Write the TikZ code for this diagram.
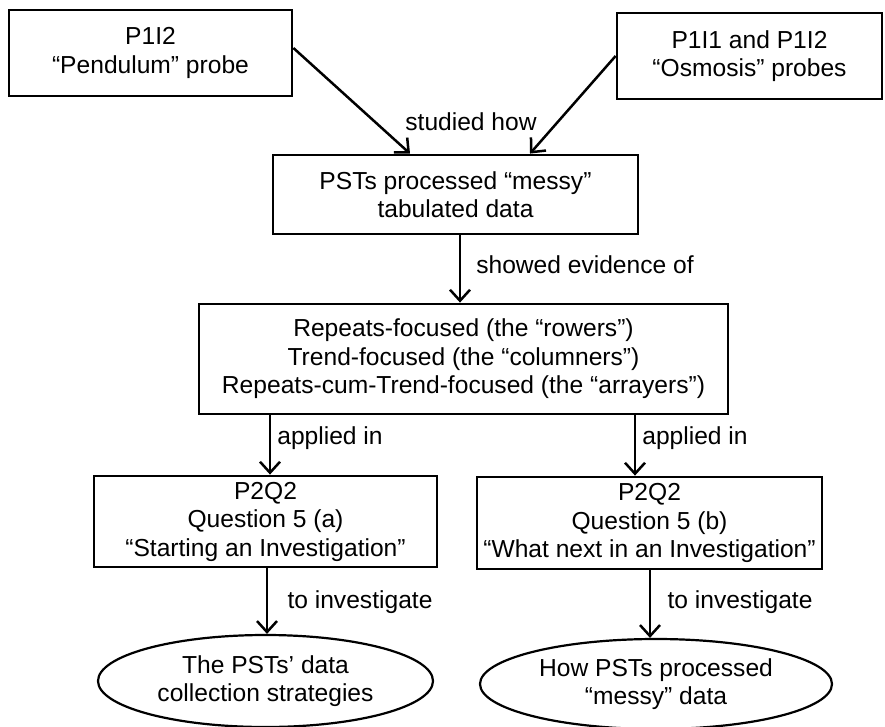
\documentclass[tikz,border=0pt]{standalone}
\usepackage{fontspec}
\setmainfont{Liberation Sans}
\usetikzlibrary{arrows.meta,shapes.geometric,calc}
\begin{document}
\begin{tikzpicture}[x=1pt,y=-1pt,
  txt/.style={font=\fontsize{24.6}{28.5}\selectfont},
  box/.style={txt,draw,line width=2.8pt,rectangle,inner sep=0pt,align=center},
  oval/.style={txt,draw,line width=2.2pt,ellipse,inner sep=0pt,align=center},
  arr/.style={line width=2.5pt,-{Straight Barb[length=11pt,width=20pt,line width=2.5pt]}},
  lab/.style={txt,inner sep=0pt}]
\useasboundingbox (0,0) rectangle (885,727);

\node[box,minimum width=283pt,minimum height=86pt] (b1) at (150.5,53) {P1I2\\“Pendulum” probe};
\node[box,minimum width=265pt,minimum height=86pt] (b2) at (749.5,56) {P1I1 and P1I2\\“Osmosis” probes};
\node[box,minimum width=365pt,minimum height=79pt] (b3) at (455.5,194.5) {PSTs processed “messy”\\tabulated data};
\node[box,minimum width=529pt,minimum height=110pt] (b4) at (463.5,359) {Repeats-focused (the “rowers”)\\Trend-focused (the “columners”)\\Repeats-cum-Trend-focused (the “arrayers”)};
\node[box,minimum width=343pt,minimum height=91pt] (b5) at (265.5,521.5) {P2Q2\\Question 5 (a)\\“Starting an Investigation”};
\node[box,minimum width=345pt,minimum height=92pt] (b6) at (649.5,523) {P2Q2\\Question 5 (b)\\“What next in an Investigation”};
\node[oval,minimum width=335pt,minimum height=92pt] (e1) at (265.5,681) {The PSTs’ data\\collection strategies};
\node[oval,minimum width=352pt,minimum height=90pt] (e2) at (656,684) {How PSTs processed\\“messy” data};

\coordinate (t1) at (410,0);
\coordinate (t2) at (530,0);
\draw[arr] ($(b1.east)+(0,-5)$) -- (b3.north -| t1);
\draw[arr] (b2.west) -- (b3.north -| t2);

\coordinate (c34) at (460,0);
\draw[arr] (b3.south -| c34) -- (b4.north -| c34);

\coordinate (c45) at (270,0);
\coordinate (c46) at (635,0);
\draw[arr] (b4.south -| c45) -- (b5.north -| c45);
\draw[arr] (b4.south -| c46) -- (b6.north -| c46);

\coordinate (c51) at (267,0);
\coordinate (c62) at (650,0);
\draw[arr] (b5.south -| c51) -- (e1.north -| c51);
\draw[arr] (b6.south -| c62) -- (e2.north -| c62);

\node[lab] (l1) at (471,122) {studied how};
\node[lab] (l2) at (585,265) {showed evidence of};
\node[lab] (l3) at (330,438) {applied in};
\node[lab] (l4) at (695,438) {applied in};
\node[lab] (l5) at (360,602) {to investigate};
\node[lab] (l6) at (740,602) {to investigate};
\end{tikzpicture}
\end{document}
